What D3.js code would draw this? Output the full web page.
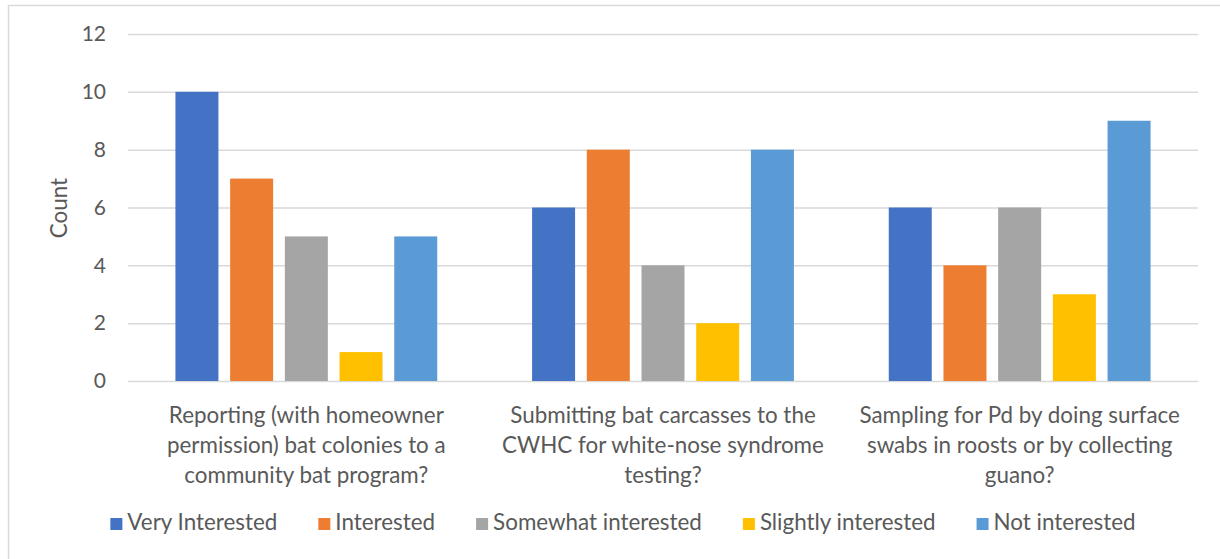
<!DOCTYPE html>
<html>
<head>
<meta charset="utf-8">
<script src="https://d3js.org/d3.v7.min.js"></script>
<style>
  body { margin: 0; background: #fff; }
  text { font-family: Lato, "Noto Sans", sans-serif; fill: #595959; }
</style>
</head>
<body>
<svg id="chart"></svg>
<script>
  // data
  var categories = [
    ["Reporting (with homeowner", "permission) bat colonies to a", "community bat program?"],
    ["Submitting bat carcasses to the", "CWHC for white-nose syndrome", "testing?"],
    ["Sampling for Pd by doing surface", "swabs in roosts or by collecting", "guano?"]
  ];
  var series = ["Very Interested", "Interested", "Somewhat interested", "Slightly interested", "Not interested"];
  var colors = ["#4472C4", "#ED7D31", "#A5A5A5", "#FFC000", "#5B9BD5"];
  var veryInterested     = [10, 6, 6];
  var interested         = [7, 8, 4];
  var somewhatInterested = [5, 4, 6];
  var slightlyInterested = [1, 2, 3];
  var notInterested      = [5, 8, 9];
  var yTicks = [0, 2, 4, 6, 8, 10, 12];

  var values = [veryInterested, interested, somewhatInterested, slightlyInterested, notInterested];

  var W = 1220, H = 559;
  var margin = {top: 34, right: 22, bottom: 178, left: 128};
  var width = W - margin.left - margin.right,
      height = H - margin.top - margin.bottom;

  var svg = d3.select("#chart").attr("width", W).attr("height", H);

  // outer chart border
  svg.append("rect")
    .attr("x", 8.5).attr("y", 5.5)
    .attr("width", W).attr("height", H)
    .attr("fill", "none").attr("stroke", "#D9D9D9").attr("stroke-width", 1.5);

  var g = svg.append("g").attr("transform", "translate(" + margin.left + "," + margin.top + ")");

  var x0 = d3.scaleBand().domain(d3.range(categories.length)).range([0, width]);
  var x1 = d3.scaleBand().domain(d3.range(series.length))
    .range([0, x0.bandwidth()]).paddingInner(0.214).paddingOuter(0.867);
  var y = d3.scaleLinear().domain([0, 12]).range([height, 0]);

  // gridlines + tick labels
  var yAxis = g.append("g")
    .call(d3.axisLeft(y).tickValues(yTicks).tickSize(-width).tickPadding(22));
  yAxis.select(".domain").remove();
  yAxis.selectAll(".tick line").attr("stroke", "#D9D9D9").attr("stroke-width", 1.5);
  yAxis.selectAll(".tick text").style("font-size", "21px").attr("fill", "#595959");

  // bars
  var groups = g.selectAll(".grp")
    .data(categories)
    .enter().append("g")
    .attr("transform", function(d, i) { return "translate(" + x0(i) + ",0)"; });

  groups.selectAll("rect")
    .data(function(d, i) { return values.map(function(v, s) { return {s: s, v: v[i]}; }); })
    .enter().append("rect")
    .attr("x", function(d) { return x1(d.s); })
    .attr("width", x1.bandwidth())
    .attr("y", function(d) { return y(d.v); })
    .attr("height", function(d) { return height - y(d.v); })
    .attr("fill", function(d) { return colors[d.s]; });

  // category labels (wrapped like the original)
  groups.append("text")
    .attr("text-anchor", "middle")
    .style("font-size", "22.4px")
    .selectAll("tspan")
    .data(function(d) { return d; })
    .enter().append("tspan")
    .attr("x", x0.bandwidth() / 2)
    .attr("y", function(d, i) { return height + 42 + i * 30; })
    .text(function(d) { return d; });

  // y axis title
  svg.append("text")
    .attr("transform", "translate(67,208) rotate(-90)")
    .attr("text-anchor", "middle")
    .style("font-size", "22.4px")
    .text("Count");

  // legend
  var legend = svg.append("g");
  var lx = 0;
  series.forEach(function(name, i) {
    var item = legend.append("g").attr("transform", "translate(" + lx + ",0)");
    item.append("rect").attr("x", 0).attr("y", -12).attr("width", 12).attr("height", 12)
      .attr("fill", colors[i]);
    var t = item.append("text").attr("x", 17).attr("y", 0).style("font-size", "22.4px").text(name);
    lx += 17 + t.node().getComputedTextLength() + 41;
  });
  var legendW = lx - 41;
  legend.attr("transform", "translate(" + (623 - legendW / 2) + ",530)");
</script>
</body>
</html>
